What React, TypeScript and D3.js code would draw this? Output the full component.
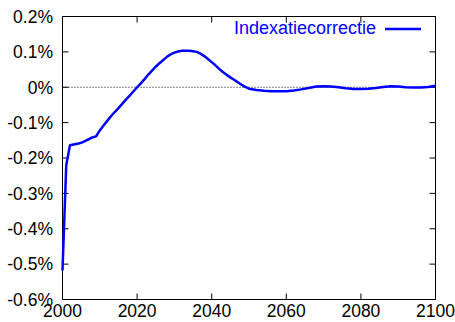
import React from "react";
import * as d3 from "d3";

const years = [
  2000, 2001, 2002, 2003, 2004, 2005, 2006, 2007, 2008, 2009, 2010, 2011, 2012, 2013, 2014, 2015, 2016, 2017, 2018, 2019,
  2020, 2021, 2022, 2023, 2024, 2025, 2026, 2027, 2028, 2029, 2030, 2031, 2032, 2033, 2034, 2035, 2036, 2037, 2038, 2039,
  2040, 2041, 2042, 2043, 2044, 2045, 2046, 2047, 2048, 2049, 2050, 2052, 2054, 2056, 2058, 2060, 2062, 2064, 2066, 2068,
  2070, 2072, 2074, 2076, 2078, 2080, 2082, 2084, 2086, 2088, 2090, 2092, 2094, 2096, 2098, 2100,
];
const indexatiecorrectie = [
  -0.518, -0.221, -0.164, -0.162, -0.16, -0.157, -0.152, -0.147, -0.142, -0.139, -0.122, -0.108, -0.095, -0.082, -0.07,
  -0.059, -0.047, -0.035, -0.024, -0.012, 0.0, 0.011, 0.023, 0.036, 0.047, 0.058, 0.068, 0.077, 0.086, 0.093, 0.098,
  0.101, 0.103, 0.103, 0.103, 0.102, 0.1, 0.095, 0.088, 0.08, 0.071, 0.062, 0.052, 0.043, 0.035, 0.028, 0.021, 0.014,
  0.007, 0.001, -0.004, -0.008, -0.01, -0.011, -0.011, -0.011, -0.009, -0.006, -0.002, 0.002, 0.003, 0.002, 0.0, -0.003,
  -0.005, -0.005, -0.004, -0.002, 0.001, 0.003, 0.002, 0.0, -0.001, -0.001, 0.001, 0.004,
];
const xTicks = [2000, 2020, 2040, 2060, 2080, 2100];
const yTicks = [-0.6, -0.5, -0.4, -0.3, -0.2, -0.1, 0, 0.1, 0.2];
const legendLabel = "Indexatiecorrectie";

const W = 455;
const H = 322;
const L = 62.5;
const R = 435.5;
const T = 16.5;
const B = 299.5;
const FONT = "'Liberation Sans', Arial, sans-serif";

export default function App() {
  const x = d3.scaleLinear().domain([2000, 2100]).range([L, R]);
  const y = d3.scaleLinear().domain([-0.6, 0.2]).range([B, T]);
  const data = years.map((yr, i) => [yr, indexatiecorrectie[i]] as [number, number]);
  const line = d3
    .line<[number, number]>()
    .x((d) => x(d[0]))
    .y((d) => y(d[1]));
  const fmt = (v: number) => {
    const r = Math.round(v * 10) / 10;
    return (r === 0 ? "0" : r.toFixed(1)) + "%";
  };
  const tl = 6;
  return (
    <svg
      width={W}
      height={H}
      style={{ position: "absolute", left: 0, top: 0, background: "#fff" }}
      xmlns="http://www.w3.org/2000/svg"
    >
      <rect x={0} y={0} width={W} height={H} fill="#fff" />
      <line x1={L} x2={R} y1={y(0)} y2={y(0)} stroke="#000" strokeWidth={1} strokeDasharray="1,2" />
      {yTicks.map((t) => (
        <g key={"y" + t}>
          <line x1={L} x2={L + tl} y1={y(t)} y2={y(t)} stroke="#000" />
          <line x1={R} x2={R - tl} y1={y(t)} y2={y(t)} stroke="#000" />
          <text
            x={53}
            y={y(t)}
            dy="0.36em"
            textAnchor="end"
            fontFamily={FONT}
            fontSize={17.5}
            fill="#000"
          >
            {fmt(t)}
          </text>
        </g>
      ))}
      {xTicks.map((t) => (
        <g key={"x" + t}>
          <line x1={x(t)} x2={x(t)} y1={B} y2={B - tl} stroke="#000" />
          <line x1={x(t)} x2={x(t)} y1={T} y2={T + tl} stroke="#000" />
          <text x={x(t)} y={317} textAnchor="middle" fontFamily={FONT} fontSize={17.5} fill="#000">
            {t}
          </text>
        </g>
      ))}
      <rect x={L} y={T} width={R - L} height={B - T} fill="none" stroke="#000" strokeWidth={1} />
      <path d={line(data) || ""} fill="none" stroke="#0000ff" strokeWidth={2.5} strokeLinejoin="round" />
      <text x={376} y={33.5} textAnchor="end" fontFamily={FONT} fontSize={18} fill="#0000ff">
        {legendLabel}
      </text>
      <line x1={385} x2={421} y1={29} y2={29} stroke="#0000ff" strokeWidth={2.5} />
    </svg>
  );
}
